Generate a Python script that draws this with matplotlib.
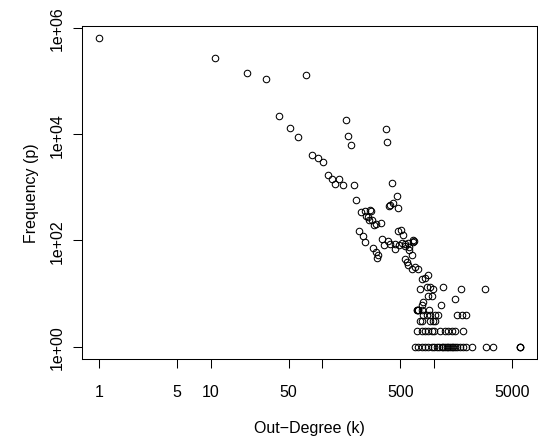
import numpy as np
import matplotlib
matplotlib.use("Agg")
import matplotlib.pyplot as plt

# out-degree (k) and its frequency (p)
head_k = [1, 11, 21, 31, 71, 41, 51, 61, 162, 171, 181, 373, 380,
          81, 91, 101, 112, 122, 131, 142, 152, 192, 202, 422, 465,
          394, 407, 428, 474, 221, 240, 265, 258, 277, 300, 247, 273,
          261, 293, 336, 212, 233, 243, 283, 303, 314, 310]
head_p = [646000, 273000, 145000, 109000, 131000, 22400, 13300, 8800, 18800, 9300, 6300, 12600, 7200,
          4100, 3500, 3000, 1700, 1440, 1170, 1460, 1100, 1110, 580, 1210, 690,
          441, 466, 508, 409, 344, 362, 380, 273, 245, 204, 293, 359,
          243, 193, 216, 151, 120, 95, 72, 60, 53, 46]

mid_k = [343, 357, 391, 402, 449, 446, 481, 511, 526, 487, 515, 552, 555,
         590, 603, 651, 651, 668, 600, 637, 552, 571, 591, 633, 678, 727,
         779, 834, 893]
mid_p = [108, 82, 99, 86, 86, 69, 151, 156, 127, 83, 91, 86, 80,
         89, 74, 93, 102, 97, 65, 53, 45, 39, 34, 29, 31, 29,
         19, 20, 22]

tail_k = [752, 864, 925, 978, 1202, 1754, 2897, 893, 957, 1549, 805, 780,
          1161, 702, 726, 912, 780, 702, 726]
tail_p = [12, 13, 13, 12, 13, 12, 12, 9, 9, 8, 7, 6,
          6, 5, 5, 5, 5, 5, 5]

row4_k = [805, 1025, 1097, 1603, 1779, 1944, 870, 930]
row3_k = [752, 925, 991, 1025, 780]
row2_k = [702, 779, 893, 957, 1004, 1137, 1260, 1349, 1448, 1549, 1840, 840]
row1_k = [678, 726, 779, 834, 893, 957, 1004, 1062, 1120, 1177, 1216, 1260,
          1305, 1349, 1398, 1448, 1496, 1549, 1625, 1718, 1840, 1944, 2188,
          2939, 3418, 5900, 5900, 5900]

degree = head_k + mid_k + tail_k + row4_k + row3_k + row2_k + row1_k
freq = (head_p + mid_p + tail_p + [4] * len(row4_k) + [3] * len(row3_k)
        + [2] * len(row2_k) + [1] * len(row1_k))

x_ticks = [1, 5, 10, 50, 100, 500, 1000, 5000]
x_labels = ["1", "5", "10", "50", "", "500", "", "5000"]
y_ticks = [1, 1e2, 1e4, 1e6]
y_labels = ["1e+00", "1e+02", "1e+04", "1e+06"]

plt.rcParams['font.family'] = ['Liberation Sans', 'DejaVu Sans']

fig = plt.figure(figsize=(5.38, 4.39), dpi=100)
ax = fig.add_axes([82.3 / 538, 79 / 439, 454.4 / 538, 333.3 / 439])

ax.plot(degree, freq, 'o', markersize=4.7, markerfacecolor='none',
        markeredgecolor='black', markeredgewidth=0.75, linestyle='none')

ax.set_xscale('log')
ax.set_yscale('log')


def r_lim(vals):
    # R style: 4% padding on each side of the data range (in log space)
    lo, hi = np.log10(min(vals)), np.log10(max(vals))
    pad = 0.04 * (hi - lo)
    return 10 ** (lo - pad), 10 ** (hi + pad)


ax.set_xlim(*r_lim(degree))
ax.set_ylim(*r_lim(freq))

ax.xaxis.set_minor_locator(matplotlib.ticker.NullLocator())
ax.yaxis.set_minor_locator(matplotlib.ticker.NullLocator())
ax.set_xticks(x_ticks)
ax.set_xticklabels(x_labels, fontsize=11.5)
ax.set_yticks(y_ticks)
ax.set_yticklabels(y_labels, fontsize=11.5, rotation=90, va='center')

ax.tick_params(direction='out', length=6.8, width=0.75)
ax.tick_params(axis='x', pad=11.5)
ax.tick_params(axis='y', pad=5.5)
for s in ax.spines.values():
    s.set_linewidth(0.75)

ax.set_xlabel('Out\u2212Degree (k)', fontsize=11.5, labelpad=15)
ax.set_ylabel('Frequency (p)', fontsize=11.5, labelpad=8)

plt.savefig('out.png', dpi=100)
